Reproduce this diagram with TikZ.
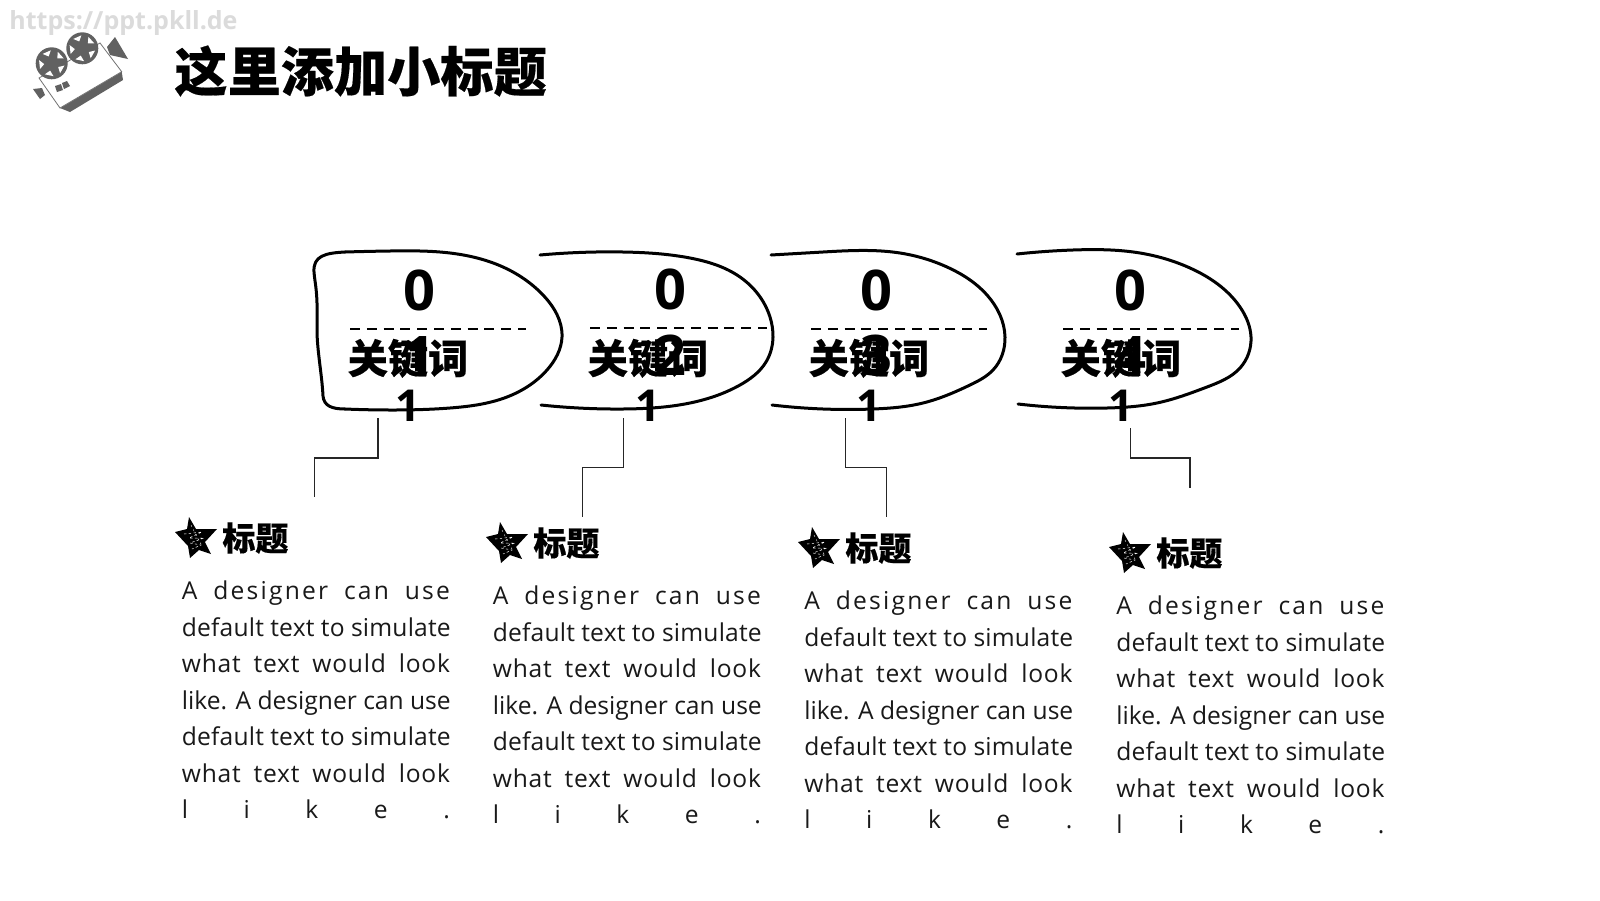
\documentclass[tikz,border=0pt]{standalone}
\usepackage{fontspec}
\setmainfont{Open Sans}
\newfontfamily\cjk[BoldFeatures={FakeBold=0.35}]{Noto Sans CJK SC}
\usetikzlibrary{calc,hobby}
\newdimen\bw \bw=134pt
\def\bline#1#2{\hbox to \bw{\addfontfeature{LetterSpace=#1}\spaceskip=.26em plus 1fil\relax #2}}
\def\bodytext{\vtop{\fontsize{12.3pt}{14pt}\selectfont\baselineskip=18.27pt\lineskip=0pt\lineskiplimit=-100pt
\bline{9}{A designer can use}
\bline{0.8}{default text to simulate}
\bline{3}{what text would look}
\bline{0}{like. A designer can use}
\bline{0.8}{default text to simulate}
\bline{3}{what text would look}
\bline{0}{l\hfil i\hfil k\hfil e\hfil .}}}
\def\headtext{\fontsize{16.5pt}{18pt}\cjk\bfseries 标题}
\tikzset{
 x=0.5pt,y=-0.5pt,
 blob/.style={line width=1.5pt,black,line cap=round,line join=round,use Hobby shortcut},
 blobedge/.style={line width=1.5pt,black,line cap=round,line join=round},
 dashline/.style={line width=1.2pt,black,dash pattern=on 5pt off 3.4pt},
 leader/.style={line width=0.55pt,black!85},
 numtext/.style={font=\fontsize{28pt}{32.8pt}\selectfont\bfseries,align=center,inner sep=0pt,text=black},
 kwtext/.style={align=center,inner sep=0pt,text=black},
 bodynode/.style={inner sep=0pt,anchor=base west,text=black!90},
 headnode/.style={inner sep=0pt,anchor=west,text=black},
}
\def\scribblestar#1#2{%
\begin{scope}[shift={(#1,#2)}]
\fill[black] (-7,-21)--(0,-9)--(21,-9)--(9,4)--(15,16)--(3,12)--(-6,20)--(-8,8)--(-21,-6)--(-9,-9)--cycle;
\draw[white,line width=0.25pt,dash pattern=on 1.2pt off 1.2pt] (-12,-4)--(6,-6)--(-7,0)--(8,0)--(-6,5)--(5,7)--(-4,11);
\draw[white,line width=0.2pt,dash pattern=on 1pt off 1.5pt] (-5,-13)--(0,-3)--(5,6);
\end{scope}}
\begin{document}
\begin{tikzpicture}
\useasboundingbox[fill=white] (0,0) rectangle (1600,900);
% watermark
\node[inner sep=0pt,anchor=west,text=black!14] (wm) at (9,23) {\fontsize{12.5pt}{15pt}\selectfont\bfseries https://ppt.pkll.de};
% camera icon
\begin{scope}
\fill[black!62] (60,108)--(70,112)--(123,80)--(121.7,71.7)--cycle;
\draw[black!55,fill=white,line width=0.4pt] (39,78)--(100,43)--(121.7,71.7)--(60,108)--cycle;
\fill[black!62] (107,47)--(115,37)--(128,59)--(110,55)--cycle;
\fill[black!62] (33,89)--(42,88)--(45,95)--(40,99)--cycle;
\fill[black!62] (55,86)--(61,84)--(63,90)--(57,92)--cycle (62,83)--(67,81)--(70,86)--(64,89)--cycle;
\foreach \cx/\cy in {51.7/63.3,82.3/48.3}{
 \fill[black!62] (\cx,\cy) circle[radius=16];
 \foreach \a in {30,102,174,246,318}{
  \fill[white] ($(\cx,\cy)+(\a:7.5)$)--($(\cx,\cy)+(\a-20:13)$)--($(\cx,\cy)+(\a+20:13)$)--cycle;
 }
}
\end{scope}
% title
\node[inner sep=0pt,anchor=west,text=black] (title) at (174,71) {\fontsize{26.6pt}{30pt}\cjk\bfseries 这里添加小标题};
% blobs
\draw[blob] (345,252) .. (390,251) .. (450,253) .. (503,267) .. (543,295) .. (562,337) .. (547,370) .. (507,397) .. (450,408) .. (390,410) .. (345,409);
\draw[blobedge] (345,252) .. controls (325,253) and (313,256) .. (314,272) .. controls (315,285) and (318,290) .. (317,330) .. controls (317,350) and (322,375) .. (323,396) .. controls (324,406) and (332,409) .. (345,409);
\draw[blob] (540,255) .. (623,252) .. (690,258) .. (740,277) .. (770,317) .. (773,337) .. (766,362) .. (740,385) .. (690,403) .. (623,409) .. (541,405);
\draw[blob] (771,255) .. (823,252) .. (900,253) .. (947,267) .. (987,295) .. (1005,337) .. (993,370) .. (970,385) .. (923,403) .. (873,409) .. (772,405);
\draw[blob] (1017,254) .. (1073,250) .. (1140,253) .. (1190,268) .. (1240,307) .. (1251,337) .. (1240,368) .. (1207,387) .. (1157,403) .. (1107,408) .. (1018,404);
% dashes
\coordinate (d1a) at (350,329); \coordinate (d1b) at (526,329);
\coordinate (d2a) at (590,328); \coordinate (d2b) at (767,328);
\coordinate (d3a) at (811,329); \coordinate (d3b) at (987,329);
\coordinate (d4a) at (1063,329); \coordinate (d4b) at (1239,329);
\foreach \i in {1,2,3,4}{\draw[dashline] (d\i a)--(d\i b);}
% number labels
\node[numtext] (n1) at (419,323) {0\\1};
\node[numtext] (n2) at (670,322) {0\\2};
\node[numtext] (n3) at (876,323) {0\\3};
\node[numtext] (n4) at (1130,323) {0\\4};
% keyword labels
\foreach \nm/\cx in {k1/408,k2/648,k3/869,k4/1121}{
\node[kwtext] (\nm) at (\cx,380) {\fontsize{20.1pt}{21pt}\cjk\bfseries 关键词\\[5pt]\fontsize{22pt}{22pt}\fontspec{Open Sans}\bfseries 1};
}
% leaders
\coordinate (a1) at (378,418); \coordinate (b1) at (314.5,497);
\coordinate (a2) at (623.5,418); \coordinate (b2) at (582.5,517);
\coordinate (a3) at (845.5,418); \coordinate (b3) at (886.5,517);
\coordinate (a4) at (1130.5,428); \coordinate (b4) at (1190,488);
\draw[leader] (a1)--(378,458)--(314.5,458)--(b1);
\draw[leader] (a2)--(623.5,467.5)--(582.5,467.5)--(b2);
\draw[leader] (a3)--(845.5,467.5)--(886.5,467.5)--(b3);
\draw[leader] (a4)--(1130.5,458)--(1190,458)--(b4);
% stars + heads
\scribblestar{196}{538}
\scribblestar{507}{543}
\scribblestar{819}{548}
\scribblestar{1130}{553}
\node[headnode] (h1) at (222,538) {\headtext};
\node[headnode] (h2) at (533,543) {\headtext};
\node[headnode] (h3) at (845,548) {\headtext};
\node[headnode] (h4) at (1156,553) {\headtext};
% bodies
\node[bodynode] (t1) at (181.5,599.5) {\bodytext};
\node[bodynode] (t2) at (492.5,604.5) {\bodytext};
\node[bodynode] (t3) at (804,609.5) {\bodytext};
\node[bodynode] (t4) at (1116,614.5) {\bodytext};
\end{tikzpicture}
\end{document}
